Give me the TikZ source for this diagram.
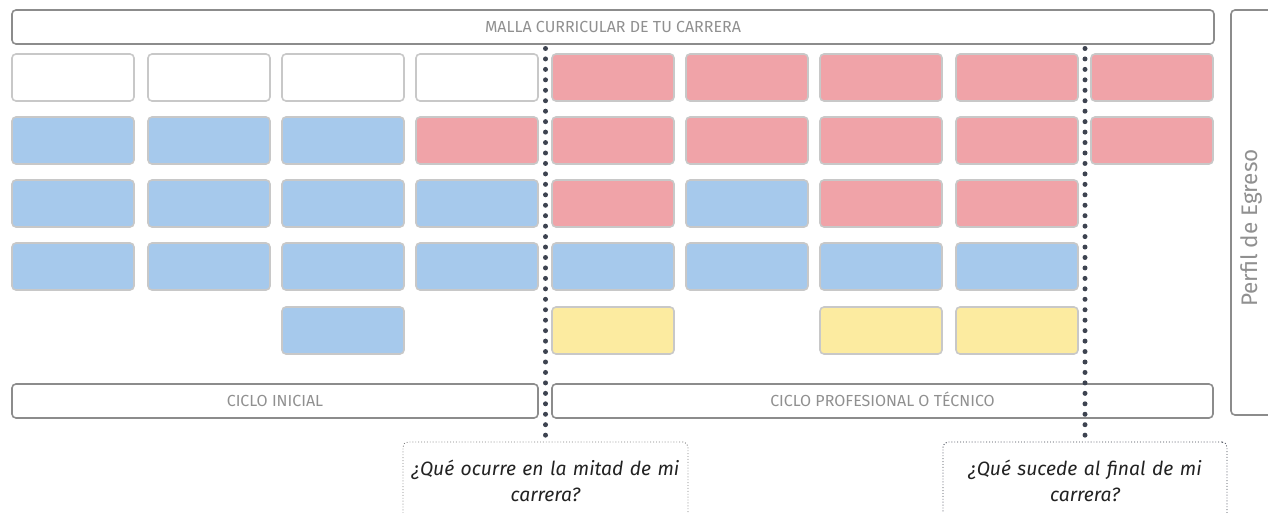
\documentclass[tikz,border=0pt]{standalone}
\usepackage{fontspec}
\setmainfont{Fira Sans}
\definecolor{cpink}{HTML}{F0A3A8}
\definecolor{cblue}{HTML}{A6C9EC}
\definecolor{cyel}{HTML}{FCEBA0}
\definecolor{cellline}{HTML}{C8C8C8}
\definecolor{outline}{HTML}{8C8C8C}
\definecolor{labelgray}{HTML}{909090}
\definecolor{dotc}{HTML}{3D4350}
\definecolor{qtext}{HTML}{222222}
\tikzset{
  cellbox/.style={draw=cellline, line width=1.6pt, rounded corners=4pt, anchor=north west,
    minimum width=122pt, minimum height=47pt, inner sep=0pt, outer sep=0pt},
  outerbox/.style={draw=outline, line width=1.6pt, rounded corners=4pt, anchor=north west,
    inner sep=0pt, outer sep=0pt, text=labelgray, font=\fontsize{16}{18}\selectfont,
    text height=11.5pt, text depth=0pt},
  dotline/.style={dotc, line width=5pt, line cap=round, dash pattern=on 0pt off 10.45pt},
  qframe/.style={draw=gray, line width=0.9pt, dotted, rounded corners=5pt, anchor=north west,
    minimum height=120pt, inner sep=0pt, outer sep=0pt},
  qtextstyle/.style={text=qtext, font=\fontsize{19.3}{26}\selectfont\itshape, align=center, text width=300pt}
}
\begin{document}
\begin{tikzpicture}[x=1pt,y=-1pt]
\useasboundingbox (0,0) rectangle (1268,513);
\clip (0,0) rectangle (1268,513);
% header and side
\node[outerbox, minimum width=1202pt, minimum height=34pt] (malla) at (12,10) {MALLA CURRICULAR DE TU CARRERA};
\node[outerbox, minimum width=70pt, minimum height=405pt] (perfil) at (1231,10) {};
\node[rotate=90, text=labelgray, font=\fontsize{22.5}{24}\selectfont] (perfiltxt) at (1251,228) {Perfil de Egreso};
% row 1
\node[cellbox, fill=white] (c11) at (12,54) {};
\node[cellbox, fill=white] (c12) at (148,54) {};
\node[cellbox, fill=white] (c13) at (282,54) {};
\node[cellbox, fill=white] (c14) at (416,54) {};
\node[cellbox, fill=cpink] (c15) at (552,54) {};
\node[cellbox, fill=cpink] (c16) at (686,54) {};
\node[cellbox, fill=cpink] (c17) at (820,54) {};
\node[cellbox, fill=cpink] (c18) at (956,54) {};
\node[cellbox, fill=cpink] (c19) at (1091,54) {};
% row 2
\node[cellbox, fill=cblue] (c21) at (12,117) {};
\node[cellbox, fill=cblue] (c22) at (148,117) {};
\node[cellbox, fill=cblue] (c23) at (282,117) {};
\node[cellbox, fill=cpink] (c24) at (416,117) {};
\node[cellbox, fill=cpink] (c25) at (552,117) {};
\node[cellbox, fill=cpink] (c26) at (686,117) {};
\node[cellbox, fill=cpink] (c27) at (820,117) {};
\node[cellbox, fill=cpink] (c28) at (956,117) {};
\node[cellbox, fill=cpink] (c29) at (1091,117) {};
% row 3
\node[cellbox, fill=cblue] (c31) at (12,180) {};
\node[cellbox, fill=cblue] (c32) at (148,180) {};
\node[cellbox, fill=cblue] (c33) at (282,180) {};
\node[cellbox, fill=cblue] (c34) at (416,180) {};
\node[cellbox, fill=cpink] (c35) at (552,180) {};
\node[cellbox, fill=cblue] (c36) at (686,180) {};
\node[cellbox, fill=cpink] (c37) at (820,180) {};
\node[cellbox, fill=cpink] (c38) at (956,180) {};
% row 4
\node[cellbox, fill=cblue] (c41) at (12,243) {};
\node[cellbox, fill=cblue] (c42) at (148,243) {};
\node[cellbox, fill=cblue] (c43) at (282,243) {};
\node[cellbox, fill=cblue] (c44) at (416,243) {};
\node[cellbox, fill=cblue] (c45) at (552,243) {};
\node[cellbox, fill=cblue] (c46) at (686,243) {};
\node[cellbox, fill=cblue] (c47) at (820,243) {};
\node[cellbox, fill=cblue] (c48) at (956,243) {};
% row 5
\node[cellbox, fill=cblue] (c53) at (282,307) {};
\node[cellbox, fill=cyel] (c55) at (552,307) {};
\node[cellbox, fill=cyel] (c57) at (820,307) {};
\node[cellbox, fill=cyel] (c58) at (956,307) {};
% cycles
\node[outerbox, minimum width=526pt, minimum height=34pt] (inicial) at (12,384) {CICLO INICIAL};
\node[outerbox, minimum width=661pt, minimum height=34pt] (prof) at (552,384) {CICLO PROFESIONAL O TÉCNICO};
% question frames
\node[qframe, minimum width=285pt] (f1) at (403,442) {};
\node[qframe, minimum width=284pt, draw=dotc] (f2) at (943,442) {};
\node[qtextstyle] (q1) at (545.5,481) {¿Qué ocurre en la mitad de mi\\carrera?};
\node[qtextstyle] (q2) at (1085,481) {¿Qué sucede al final de mi\\carrera?};
% dotted lines
\coordinate (d1) at (545.5,48.5);
\coordinate (d2) at (1085,48.5);
\draw[dotline] (d1) -- (f1.north);
\draw[dotline] (d2) -- (f2.north);
\end{tikzpicture}
\end{document}
